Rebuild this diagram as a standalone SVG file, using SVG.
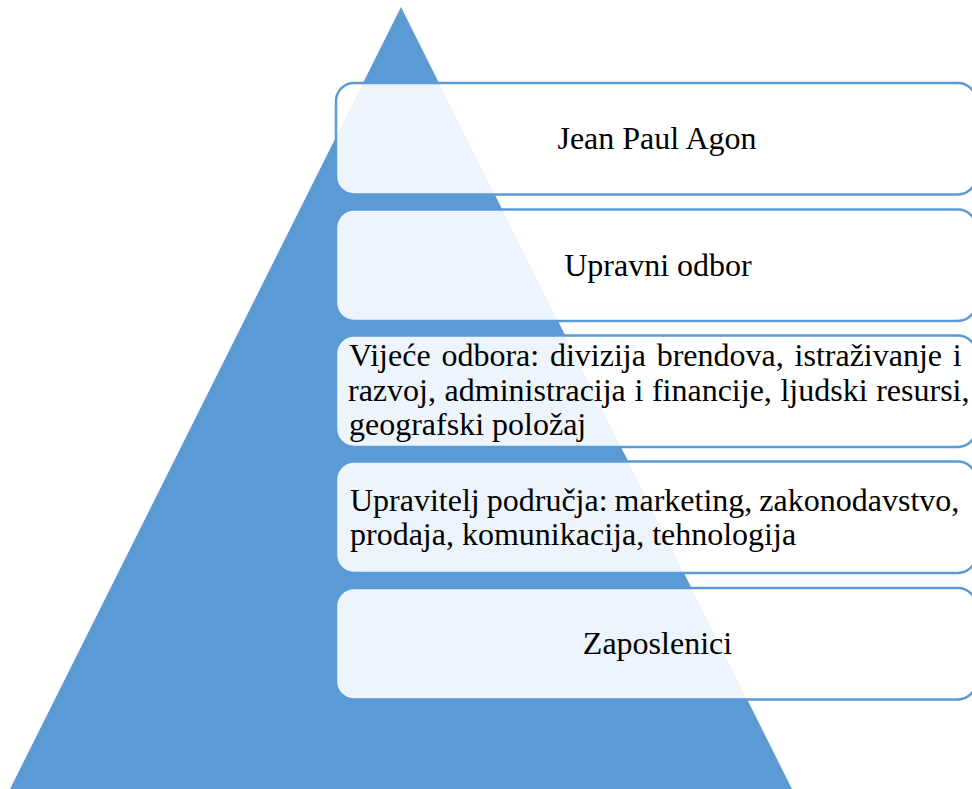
<svg xmlns="http://www.w3.org/2000/svg" width="972" height="789" viewBox="0 0 972 789">
<style>
.box{fill:#ffffff;fill-opacity:0.89;stroke:#5B9BD5;stroke-width:2.5}
.t{font-family:"Liberation Serif","Times New Roman",serif;font-size:32px;fill:#000000}
.c{text-anchor:middle}
</style>
<rect width="972" height="789" fill="#ffffff"/>
<g id="pyramid">
<polygon points="401,7 10,789 792,789" fill="#5B9BD5"/>
</g>
<g id="connectors"></g>
<g id="node1">
<rect class="box" x="336" y="83" width="640" height="111.5" rx="18"/>
<text class="t c" x="657" y="149">Jean Paul Agon</text>
</g>
<g id="node2">
<rect class="box" x="336" y="209.5" width="640" height="111.5" rx="18"/>
<text class="t c" x="658" y="276">Upravni odbor</text>
</g>
<g id="node3">
<rect class="box" x="336" y="335.5" width="640" height="111.5" rx="18"/>
<text class="t" x="349" y="366" word-spacing="2.8">Vijeće odbora: divizija brendova, istraživanje i</text>
<text class="t" x="348" y="401" word-spacing="0.6">razvoj, administracija i financije, ljudski resursi,</text>
<text class="t" x="349" y="435">geografski položaj</text>
</g>
<g id="node4">
<rect class="box" x="336" y="461.5" width="640" height="111.5" rx="18"/>
<text class="t" x="350" y="511" word-spacing="-1">Upravitelj područja: marketing, zakonodavstvo,</text>
<text class="t" x="350" y="545">prodaja, komunikacija, tehnologija</text>
</g>
<g id="node5">
<rect class="box" x="336" y="588" width="640" height="111.5" rx="18"/>
<text class="t c" x="657.5" y="654">Zaposlenici</text>
</g>
</svg>
